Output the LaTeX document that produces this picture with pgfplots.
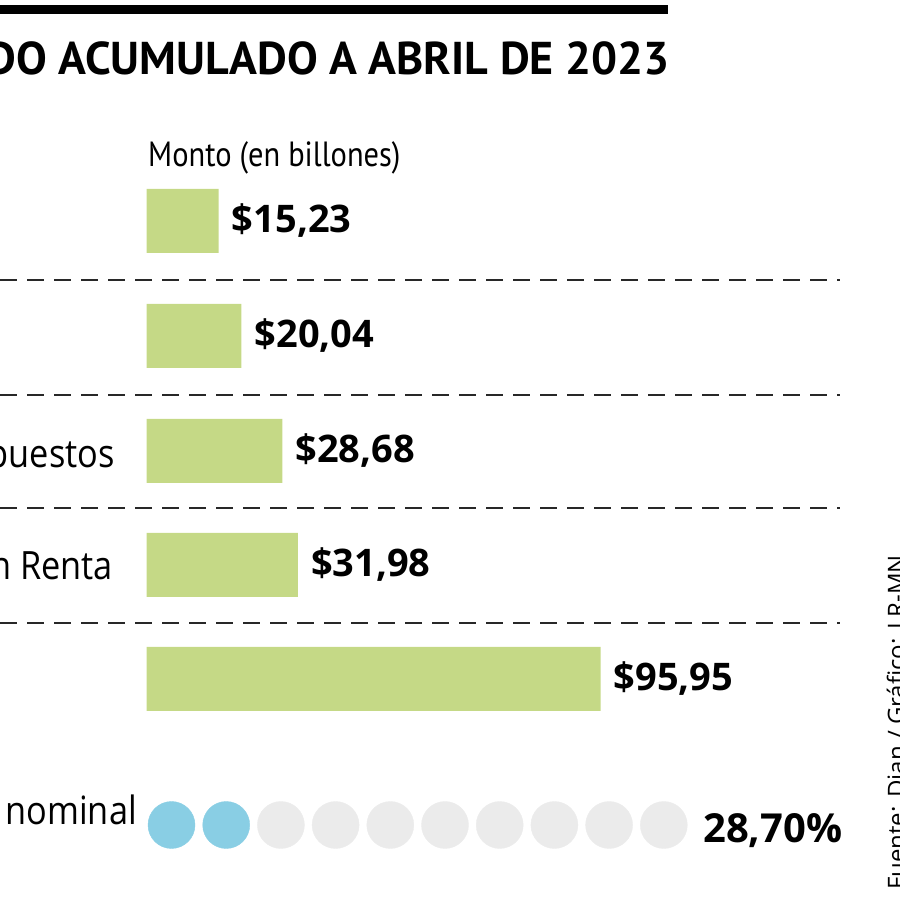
\documentclass[border=0pt]{standalone}
\usepackage{pgfplots}
\pgfplotsset{compat=1.18}
\usepackage{fontspec}
\setmainfont{Open Sans}
\newfontfamily\labfont[FakeStretch=0.88]{Open Sans}
\newfontfamily\condfont[FakeStretch=0.87]{PT Sans}
\newfontfamily\titlefont{PT Sans}

\definecolor{barfill}{RGB}{197,217,134}
\definecolor{dotblue}{RGB}{137,206,228}
\definecolor{dotgrey}{RGB}{235,235,235}
\definecolor{rule}{RGB}{40,40,40}

\begin{document}
\begin{tikzpicture}[x=1pt,y=1pt]
\useasboundingbox (0,0) rectangle (900,900);
\clip (0,0) rectangle (900,900);

% barras (monto en billones)
\begin{axis}[
    at={(0,0)}, anchor=south west,
    scale only axis, width=900pt, height=900pt,
    xmin=-31.01, xmax=159.26,
    ymin=0, ymax=900,
    hide axis,
    clip=false,
]
\addplot[xbar, fill=barfill, draw=none, bar width=64pt,
    nodes near coords, point meta=explicit symbolic,
    every node near coord/.style={anchor=west, inner sep=0pt, xshift=13pt,
        font=\bfseries\fontsize{38}{40}\selectfont, text=black}]
    coordinates {
    (15.23,679) [\$15,23]
    (20.04,564) [\$20,04]
    (28.68,449) [\$28,68]
    (31.98,335) [\$31,98]
    (95.95,221) [\$95,95]
};
\end{axis}

% puntos (2 de 10)
\begin{axis}[
    at={(0,0)}, anchor=south west,
    scale only axis, width=900pt, height=900pt,
    xmin=-2.1353, xmax=14.3181,
    ymin=0, ymax=900,
    hide axis,
    clip=false,
]
\addplot[dotgrey, only marks, mark=*, mark size=23.5pt,
    mark options={draw=dotgrey, fill=dotgrey}]
    coordinates {(3,75) (4,75) (5,75) (6,75) (7,75) (8,75) (9,75) (10,75)};
\addplot[dotblue, only marks, mark=*, mark size=23.5pt,
    mark options={draw=dotblue, fill=dotblue}]
    coordinates {(1,75) (2,75)};
\end{axis}

% barra superior y título
\fill[black] (0,886) rectangle (668,895);
\node[anchor=base east, inner sep=0pt] at (670,825)
    {\titlefont\bfseries\fontsize{46}{50}\selectfont RECAUDO ACUMULADO A ABRIL DE 2023};
\node[anchor=base west, inner sep=0pt] at (148,733)
    {\condfont\fontsize{35}{40}\selectfont Monto (en billones)};

% separadores
\foreach \yy in {620,505,392,277}
    \draw[rule, line width=2pt, dash pattern=on 17pt off 10pt] (0,\yy) -- (840,\yy);

% etiquetas de fila
\node[anchor=base east, inner sep=0pt] at (115,432)
    {\labfont\fontsize{39}{44}\selectfont Otros impuestos};
\node[anchor=base east, inner sep=0pt] at (113,320)
    {\labfont\fontsize{39}{44}\selectfont Retención en Renta};
\node[anchor=base east, inner sep=0pt] at (137,75)
    {\labfont\fontsize{39}{44}\selectfont Crecimiento nominal};
\node[anchor=base west, inner sep=0pt] at (703,57)
    {\bfseries\fontsize{40}{44}\selectfont 28,70\%};

% fuente
\node[rotate=90, anchor=base west, inner sep=0pt] at (905,10)
    {\fontsize{24}{28}\selectfont Fuente: Dian / Gráfico: LR-MN};
\end{tikzpicture}
\end{document}
